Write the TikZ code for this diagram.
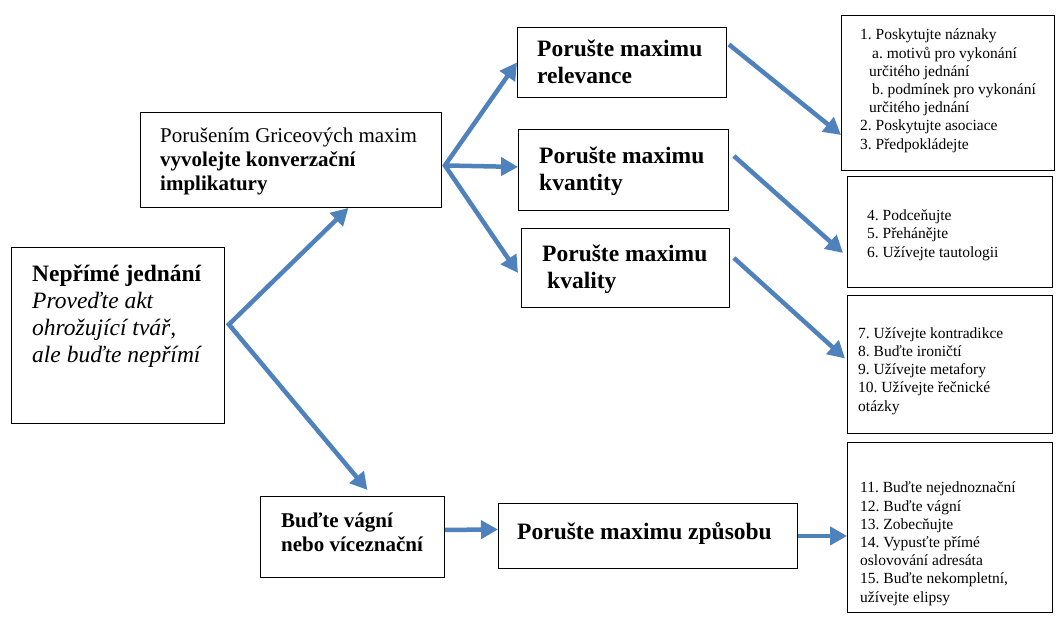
\documentclass[tikz,border=0pt]{standalone}
\usepackage{fontspec}
\setmainfont{Liberation Serif}
\usetikzlibrary{arrows.meta}
\definecolor{flowblue}{RGB}{79,129,189}
\frenchspacing

\begin{document}
\begin{tikzpicture}[x=1pt, y=-1pt, >={Triangle[length=17pt,width=18pt]},
  box/.style={draw, line width=0.9pt, inner sep=0pt, anchor=north west},
  txt/.style={inner sep=0pt, anchor=base west, align=left},
  big/.style={font=\fontsize{23.5}{27}\selectfont},
  bigbold/.style={font=\fontsize{23.5}{27}\selectfont\bfseries},
  mid/.style={font=\fontsize{21}{24}\selectfont},
  midbold/.style={font=\fontsize{21}{24}\selectfont\bfseries},
  small/.style={font=\fontsize{15.5}{18.2}\selectfont},
  flow/.style={draw=flowblue, line width=4.5pt, ->}]
  \useasboundingbox (0,0) rectangle (1056,621);

  % rámečky
  \node[box, minimum width=213pt, minimum height=176pt] (direct) at (11,247) {};
  \node[box, minimum width=301pt, minimum height=95pt] (grice) at (140,112) {};
  \node[box, minimum width=209pt, minimum height=70pt] (rel) at (517,27) {};
  \node[box, minimum width=210pt, minimum height=81pt] (quan) at (518,129) {};
  \node[box, minimum width=208pt, minimum height=79pt] (qual) at (521,228) {};
  \node[box, minimum width=184pt, minimum height=81pt] (vague) at (260,496) {};
  \node[box, minimum width=299pt, minimum height=65pt] (manner) at (498,503) {};
  \node[box, minimum width=213pt, minimum height=155pt] (lrel) at (841,15) {};
  \node[box, minimum width=205pt, minimum height=111pt] (lquan) at (847,176) {};
  \node[box, minimum width=205pt, minimum height=138pt] (lqual) at (847,295) {};
  \node[box, minimum width=205pt, minimum height=170pt] (lmanner) at (847,442) {};

  % texty (kotva = účaří posledního řádku)
  \node[txt, big] (direct text) at (32,362) {\textbf{Nepřímé jednání}\\ \textit{Proveďte akt}\\ \textit{ohrožující tvář,}\\ \textit{ale buďte nepřímí}};
  \node[txt, mid] (grice text) at (160,190) {Porušením Griceových maxim\\ \textbf{vyvolejte konverzační}\\ \textbf{implikatury}};
  \node[txt, bigbold] (rel text) at (537,83) {Porušte maximu\\ relevance};
  \node[txt, bigbold] (quan text) at (539,190) {Porušte maximu\\ kvantity};
  \node[txt, bigbold] (qual text) at (542,288) {Porušte maximu\\ \hspace*{5pt}kvality};
  \node[txt, midbold] (vague text) at (281,551) {Buďte vágní\\ nebo víceznační};
  \node[txt, bigbold] (manner text) at (517,539) {Porušte maximu způsobu};
  \node[txt, small] (lrel text) at (860,149) {1. Poskytujte náznaky\\ \hspace*{12pt}a. motivů pro vykonání\\ \hspace*{9pt}určitého jednání\\ \hspace*{12pt}b. podmínek pro vykonání\\ \hspace*{9pt}určitého jednání\\ 2. Poskytujte asociace\\ 3. Předpokládejte};
  \node[txt, small] (lquan text) at (867,257) {4. Podceňujte\\ 5. Přehánějte\\ 6. Užívejte tautologii};
  \node[txt, small] (lqual text) at (858,411) {7. Užívejte kontradikce\\ 8. Buďte ironičtí\\ 9. Užívejte metafory\\ 10. Užívejte řečnické\\ otázky};
  \node[txt, small] (lmanner text) at (860,602) {11. Buďte nejednoznační\\ 12. Buďte vágní\\ 13. Zobecňujte\\ 14. Vypusťte přímé\\ oslovování adresáta\\ 15. Buďte nekompletní,\\ užívejte elipsy};

  % šipky
  \coordinate (fork1) at ([xshift=4pt,yshift=11pt]direct.east);
  \coordinate (fork2) at ([xshift=3pt,yshift=-5.5pt]grice.east);
  \draw[flow, <->] ([xshift=57.5pt]grice.south) -- (fork1) -- ([xshift=15pt,yshift=6pt]vague.north);
  \draw[flow, <->] (rel.west) -- (fork2) -- ([xshift=-3pt,yshift=-5pt]qual.west);
  \draw[flow] (fork2) -- ([yshift=3pt]quan.west);
  \draw[flow] ([xshift=2pt,yshift=18pt]rel.east) -- ([yshift=-42pt]lrel.west);
  \draw[flow] ([xshift=5pt,yshift=14pt]quan.east) -- ([xshift=-4pt,yshift=-21pt]lquan.west);
  \draw[flow] ([xshift=4pt,yshift=10pt]qual.east) -- ([xshift=-2pt,yshift=6pt]lqual.west);
  \draw[flow] ([yshift=7pt]vague.east) -- ([yshift=6.5pt]manner.west);
  \draw[flow] (manner.east) -- (manner.east -| lmanner.west);
\end{tikzpicture}
\end{document}
